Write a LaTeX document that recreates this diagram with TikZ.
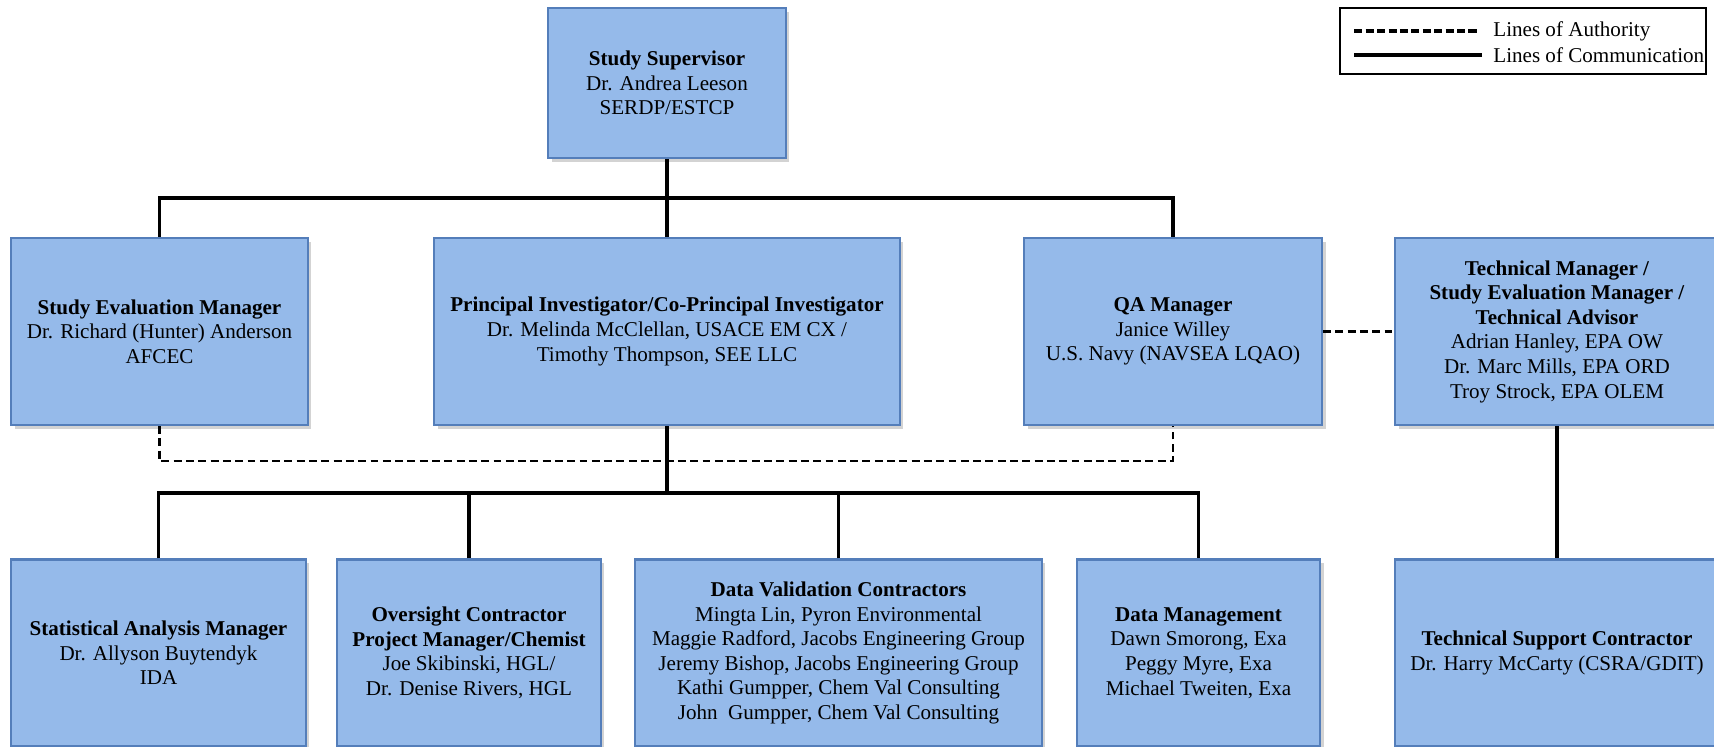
\documentclass[tikz,border=0pt]{standalone}
\usepackage{fontspec}
\setmainfont{Liberation Serif}
\usetikzlibrary{shadows}
\definecolor{boxfill}{RGB}{149,186,234}
\definecolor{boxline}{RGB}{84,126,186}
\tikzset{
  orgbox/.style={rectangle, draw=boxline, line width=1.2pt, fill=boxfill, align=center, inner sep=2pt,
    minimum height=3.74cm, font=\fontsize{12}{14}\selectfont,
    drop shadow={shadow xshift=2pt, shadow yshift=-2pt, opacity=0.35}},
  commline/.style={line width=1.8pt},
  authline/.style={line width=1.5pt, dash pattern=on 4.5pt off 2.5pt},
  legtext/.style={anchor=west, inner sep=0pt, font=\fontsize{12}{14}\selectfont}
}
\begin{document}
\begin{tikzpicture}[x=0.02cm,y=-0.02cm]
\useasboundingbox (0,0) rectangle (1714,747);
\coordinate (topbus) at (0,198);
\coordinate (authbus) at (0,461);
\coordinate (lowbus) at (0,493);
\node[orgbox, minimum width=4.76cm, minimum height=3cm] (sup) at (667,83) {\textbf{Study Supervisor}\\Dr. Andrea Leeson\\SERDP/ESTCP};
\node[orgbox, minimum width=5.94cm] (sem) at (159.5,331.5) {\textbf{Study Evaluation Manager}\\Dr. Richard (Hunter) Anderson\\AFCEC};
\node[orgbox, minimum width=9.32cm] (pi) at (667,331.5) {\textbf{Principal Investigator/Co-Principal Investigator}\\Dr. Melinda McClellan, USACE EM CX /\\Timothy Thompson, SEE LLC};
\node[orgbox, minimum width=5.96cm] (qa) at (1173,331.5) {\textbf{QA Manager}\\Janice Willey\\U.S. Navy (NAVSEA LQAO)};
\node[orgbox, minimum width=6.48cm] (tm) at (1557,331.5) {\textbf{Technical Manager /}\\\textbf{Study Evaluation Manager /}\\\textbf{Technical Advisor}\\Adrian Hanley, EPA OW\\Dr. Marc Mills, EPA ORD\\Troy Strock, EPA OLEM};
\node[orgbox, minimum width=5.9cm] (stat) at (158.5,653) {\textbf{Statistical Analysis Manager}\\Dr. Allyson Buytendyk\\IDA};
\node[orgbox, minimum width=5.28cm] (ovs) at (469,653) {\textbf{Oversight Contractor}\\\textbf{Project Manager/Chemist}\\Joe Skibinski, HGL/\\Dr. Denise Rivers, HGL};
\node[orgbox, minimum width=8.14cm] (dv) at (838.5,653) {\textbf{Data Validation Contractors}\\Mingta Lin, Pyron Environmental\\Maggie Radford, Jacobs Engineering Group\\Jeremy Bishop, Jacobs Engineering Group\\Kathi Gumpper, Chem Val Consulting\\John~~Gumpper, Chem Val Consulting};
\node[orgbox, minimum width=4.86cm] (dm) at (1198.5,653) {\textbf{Data Management}\\Dawn Smorong, Exa\\Peggy Myre, Exa\\Michael Tweiten, Exa};
\node[orgbox, minimum width=6.48cm] (ts) at (1557,653) {\textbf{Technical Support Contractor}\\Dr. Harry McCarty (CSRA/GDIT)};
\draw[commline] (sup.south) -- (pi.north);
\draw[commline] (sem.north) |- (qa.north |- topbus) -- (qa.north);
\draw[authline] (sem.south) -- (sem.south |- authbus) -| (qa.south);
\draw[authline] (qa.east) -- (tm.west);
\draw[commline] (pi.south) -- (pi.south |- lowbus);
\draw[commline] (stat.north) |- (dm.north |- lowbus) -- (dm.north);
\draw[commline] (ovs.north) -- (ovs.north |- lowbus);
\draw[commline] (dv.north) -- (dv.north |- lowbus);
\draw[commline] (tm.south) -- (ts.north);
\node[draw, line width=1pt, minimum width=7.32cm, minimum height=1.32cm] (legend) at (1523,41) {};
\node[legtext] (authtext) at (1493,31) {Lines of Authority};
\node[legtext] (commtext) at (1493,55) {Lines of Communication};
\draw[line width=1.8pt, dash pattern=on 4.6pt off 1.9pt] ([xshift=-2.775cm]authtext.west) -- ++(2.455cm,0);
\draw[line width=1.8pt] ([xshift=-0.22cm]commtext.west) -- ++(-128,0);
\end{tikzpicture}
\end{document}
